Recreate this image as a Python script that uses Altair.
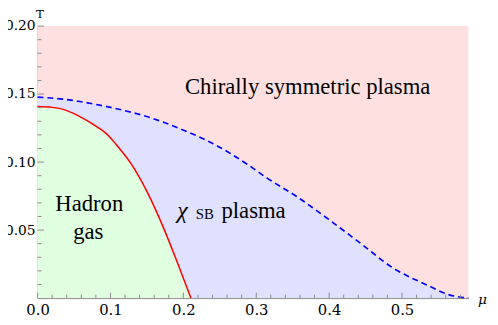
import altair as alt
import pandas as pd

# ---- data ----
MU_MAX = 0.591
T_MAX = 0.20

red_mu = [0.0, 0.02, 0.034, 0.056, 0.079, 0.097, 0.108, 0.128, 0.151, 0.1735, 0.1915, 0.2104]
red_T = [0.1408, 0.1402, 0.1389, 0.134, 0.1268, 0.1196, 0.1128, 0.099, 0.0773, 0.0507, 0.0266, 0.0]

blue_mu = [0.0, 0.043, 0.079, 0.115, 0.151, 0.196, 0.241, 0.286, 0.315, 0.356, 0.399, 0.444,
           0.489, 0.534, 0.565, 0.591]
blue_T = [0.1478, 0.1457, 0.1425, 0.1384, 0.1333, 0.1244, 0.1135, 0.099, 0.0882, 0.0745,
          0.058, 0.0399, 0.0217, 0.0097, 0.0024, 0.0]

x_major = [0.0, 0.1, 0.2, 0.3, 0.4, 0.5]
x_minor = [0.02, 0.04, 0.06, 0.08, 0.12, 0.14, 0.16, 0.18, 0.22, 0.24, 0.26, 0.28,
           0.32, 0.34, 0.36, 0.38, 0.42, 0.44, 0.46, 0.48, 0.52, 0.54, 0.56, 0.58]
y_major = [0.05, 0.10, 0.15, 0.20]
y_minor = [0.01, 0.02, 0.03, 0.04, 0.06, 0.07, 0.08, 0.09, 0.11, 0.12, 0.13, 0.14,
           0.16, 0.17, 0.18, 0.19]

big_labels = ["Chirally symmetric plasma", "Hadron", "gas"]
big_mu = [0.3706, 0.0709, 0.0695]
big_T = [0.1502, 0.0640, 0.0435]

chi_label, chi_mu, chi_T = ["χ"], [0.1915], [0.0592]
sb_label, sb_mu, sb_T = ["SB"], [0.2172], [0.0580]
pl_label, pl_mu, pl_T = ["plasma"], [0.2523], [0.0592]

FONT = "Liberation Serif"
AXFONT = "DejaVu Serif"
W, H = 437, 276

xs = alt.Scale(domain=[0, MU_MAX], nice=False, zero=False)
ys = alt.Scale(domain=[0, T_MAX], nice=False, zero=False)

red_df = pd.DataFrame({"mu": red_mu, "T": red_T})
blue_df = pd.DataFrame({"mu": blue_mu, "T": blue_T})

x_axis = alt.Axis(values=x_major, format=".1f", title="μ", grid=False, ticks=False,
                  domainColor="#8a8a8a", domainWidth=1, labelFont=AXFONT, labelFontSize=15,
                  labelColor="black", labelPadding=5, titleFont=AXFONT, titleFontSize=14,
                  titleFontStyle="italic", titleFontWeight="normal", titleColor="black",
                  titleAngle=0, titleAlign="center", titleBaseline="alphabetic",
                  titleX=451, titleY=5, labelFlush=False, labelOverlap=False)
y_axis = alt.Axis(values=y_major, format=".2f", title="T", grid=False, ticks=False,
                  domainColor="#8a8a8a", domainWidth=1, labelFont=AXFONT, labelFontSize=14,
                  labelColor="black", labelPadding=2.5, labelBaseline="middle",
                  titleFont=AXFONT, titleFontSize=12, titleFontWeight="normal",
                  titleColor="black", titleAngle=0, titleAlign="center",
                  titleBaseline="alphabetic", titleX=2, titleY=-9,
                  labelFlush=False, labelOverlap=False)

X = lambda f: alt.X(f, scale=xs, axis=x_axis)
Y = lambda f: alt.Y(f, scale=ys, axis=y_axis)

bg = alt.Chart(pd.DataFrame({"x0": [0.0], "x1": [MU_MAX], "y0": [0.0], "y1": [T_MAX]})).mark_rect(
    color="#ffe0e0").encode(x=X("x0:Q"), x2="x1:Q", y=Y("y0:Q"), y2="y1:Q")

blue_area = alt.Chart(blue_df).mark_area(color="#e0e0ff", opacity=1, interpolate="monotone").encode(
    x=X("mu:Q"), y=Y("T:Q"))
green_area = alt.Chart(red_df).mark_area(color="#e0ffe0", opacity=1, interpolate="monotone").encode(
    x=X("mu:Q"), y=Y("T:Q"))
red_line = alt.Chart(red_df).mark_line(color="#ff0000", strokeWidth=1.5, interpolate="monotone").encode(
    x=X("mu:Q"), y=Y("T:Q"))
blue_line = alt.Chart(blue_df).mark_line(color="#0000ff", strokeWidth=1.7, strokeDash=[6, 4],
                                         interpolate="monotone").encode(
    x=X("mu:Q"), y=Y("T:Q"))

TICK_COL = "#8a8a8a"
xt_major = alt.Chart(pd.DataFrame({"mu": x_major})).mark_rule(color=TICK_COL, strokeWidth=1).encode(
    x=X("mu:Q"), y=alt.value(H), y2=alt.value(H - 5.5))
xt_minor = alt.Chart(pd.DataFrame({"mu": x_minor})).mark_rule(color=TICK_COL, strokeWidth=1).encode(
    x=X("mu:Q"), y=alt.value(H), y2=alt.value(H - 3.5))
yt_major = alt.Chart(pd.DataFrame({"T": y_major})).mark_rule(color=TICK_COL, strokeWidth=1).encode(
    y=Y("T:Q"), x=alt.value(0), x2=alt.value(6.5))
yt_minor = alt.Chart(pd.DataFrame({"T": y_minor})).mark_rule(color=TICK_COL, strokeWidth=1).encode(
    y=Y("T:Q"), x=alt.value(0), x2=alt.value(4))


def text_layer(labels, mus, Ts, size, align, italic=False):
    df = pd.DataFrame({"mu": mus, "T": Ts, "label": labels})
    kw = {"fontStyle": "italic"} if italic else {}
    return alt.Chart(df).mark_text(font=FONT, fontSize=size, align=align, baseline="alphabetic",
                                   color="black", **kw).encode(
        x=X("mu:Q"), y=Y("T:Q"), text="label:N")


t_big = text_layer(big_labels, big_mu, big_T, 23, "center")
t_chi = text_layer(chi_label, chi_mu, chi_T, 24, "left", italic=True)
t_sb = text_layer(sb_label, sb_mu, sb_T, 15, "left")
t_pl = text_layer(pl_label, pl_mu, pl_T, 23, "left")

chart = alt.layer(
    bg, blue_area, green_area, red_line, blue_line,
    xt_major, xt_minor, yt_major, yt_minor,
    t_big, t_chi, t_sb, t_pl,
).properties(
    width=W, height=H,
    autosize=alt.AutoSizeParams(type="none"),
    padding={"left": 30, "top": 16, "right": 22, "bottom": 25},
).configure_view(stroke=None)

chart.save("out.html", embed_options={"renderer": "svg", "actions": False})
